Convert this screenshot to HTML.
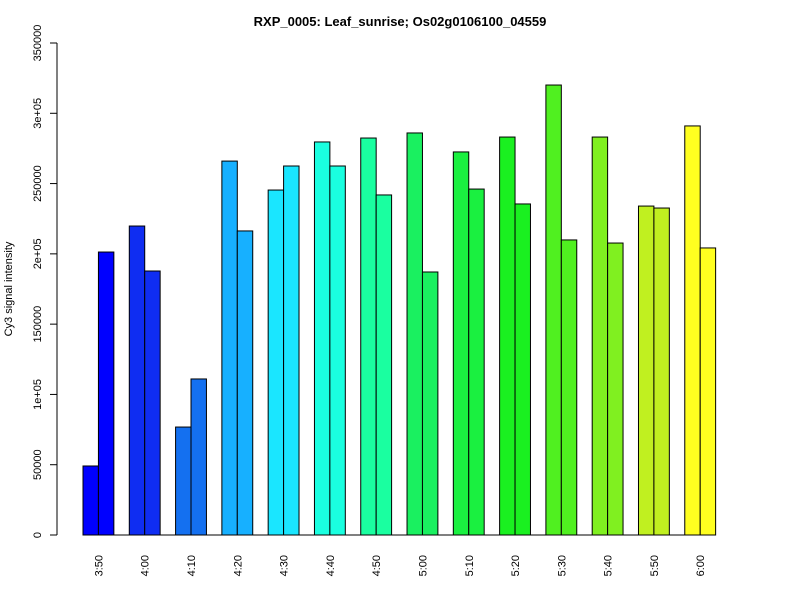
<!DOCTYPE html>
<html><head><meta charset="utf-8"><style>
body{margin:0;background:#fff}
svg{display:block;font-family:"Liberation Sans",Arial,sans-serif}
</style></head><body>
<svg id="chart" width="800" height="600">
<text x="400" y="26" text-anchor="middle" font-size="13" font-weight="bold">RXP_0005: Leaf_sunrise; Os02g0106100_04559</text>
<text transform="translate(12,289) rotate(-90)" text-anchor="middle" font-size="11">Cy3 signal intensity</text>
<g id="yaxis"></g>
<g id="bars"></g>
<g id="xlabels"></g>
</svg>
<script>
const categories=["3:50","4:00","4:10","4:20","4:30","4:40","4:50","5:00","5:10","5:20","5:30","5:40","5:50","6:00"];
const series1=[49100,219800,76800,266000,245400,279600,282400,286000,272500,283100,320100,283100,234000,291000];
const series2=[201300,187800,111000,216300,262500,262500,241900,187100,246100,235500,209900,207700,232600,204200];
const yTicks=[0,50000,100000,150000,200000,250000,300000,350000];
const yTickLabels=["0","50000","1e+05","150000","2e+05","250000","3e+05","350000"];
const colors=["#0000FF","#0F2DF2","#1470F0","#17B0FF","#1AE6FF","#1AFFE0","#1AFFA0","#1AF060","#1AF040","#1AF020","#50F020","#80F020","#C0F020","#FFFF20"];
const NS="http://www.w3.org/2000/svg";
const y0=535,yTop=43,vmax=350000;
const y=v=>y0-(v/vmax)*(y0-yTop);
const bw=15.43,x0=83-bw;
const x=u=>x0+u*bw;
function mk(t,a,p){const e=document.createElementNS(NS,t);for(const k in a)e.setAttribute(k,a[k]);p.appendChild(e);return e;}
const ya=document.getElementById('yaxis');
mk('line',{x1:57,x2:57,y1:y(0),y2:y(vmax),stroke:'#000'},ya);
yTicks.forEach((v,i)=>{
 const t=mk('line',{x1:50,x2:57,y1:y(v),y2:y(v),stroke:'#000'},ya);
 
 
 const l=mk('text',{transform:`translate(41,${y(v)}) rotate(-90)`,'text-anchor':'middle','font-size':'11'},ya);
 l.textContent=yTickLabels[i];
 
 
});
const bg=document.getElementById('bars'),xl=document.getElementById('xlabels');
mk('line',{x1:x(1),x2:x(3*categories.length),y1:y0,y2:y0,stroke:'#000'},bg);
categories.forEach((c,i)=>{
 const s=1+3*i;
 [series1[i],series2[i]].forEach((v,j)=>{
  const r=mk('rect',{x:x(s+j),y:y(v),width:bw,height:y0-y(v),fill:colors[i],stroke:'#000','stroke-width':1},bg);
  
  
 });
 const t=mk('text',{transform:`translate(${x(s+1)+4},555) rotate(-90)`,'text-anchor':'end','font-size':'11'},xl);
 t.textContent=c;
 
 
});
</script>
</body></html>
